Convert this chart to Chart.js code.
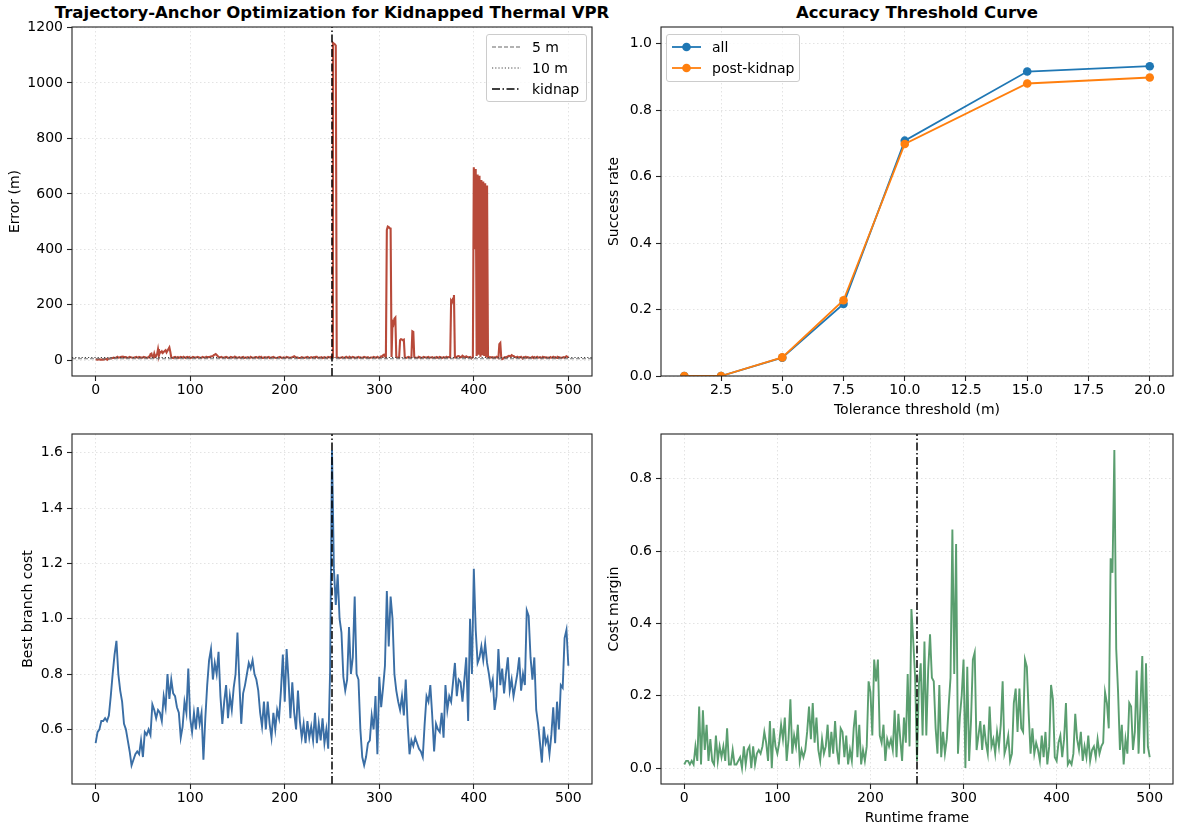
<!DOCTYPE html>
<html>
<head>
<meta charset="utf-8">
<title>Kidnapped Thermal VPR</title>
<script src="https://cdn.jsdelivr.net/npm/chart.js@4.4.1/dist/chart.umd.min.js"></script>
<style>
  html, body { margin: 0; padding: 0; background: #fff; }
  body { position: relative; width: 1179px; height: 829px; overflow: hidden; font-family: "DejaVu Sans", sans-serif; color: #000; }
  canvas { position: absolute; }
  .title { position: absolute; top: 3px; width: 640px; text-align: center; font-weight: bold; font-size: 16.5px; line-height: 20px; }
  .legend { position: absolute; box-sizing: border-box; background: rgba(255,255,255,0.8); border: 1px solid #ccc; border-radius: 3px; font-size: 14px; padding: 1px 0 2px 5px; }
  .legend .row { display: flex; align-items: center; height: 21px; white-space: nowrap; }
  .legend svg { width: 29px; height: 12px; margin-right: 11px; flex: none; }
</style>
</head>
<body>
<div class="title" style="left:12px">Trajectory-Anchor Optimization for Kidnapped Thermal VPR</div>
<div class="title" style="left:597px">Accuracy Threshold Curve</div>
<canvas id="errorChart" width="600" height="420" style="left:0;top:0"></canvas>
<canvas id="accChart" width="589" height="420" style="left:590px;top:0"></canvas>
<canvas id="costChart" width="600" height="409" style="left:0;top:420px"></canvas>
<canvas id="marginChart" width="589" height="409" style="left:590px;top:420px"></canvas>

<div class="legend" style="left:486px;top:34px;width:101px">
  <div class="row"><svg><line x1="0" y1="6" x2="29" y2="6" stroke="#666" stroke-width="1.1" stroke-dasharray="4 2"/></svg>5 m</div>
  <div class="row"><svg><line x1="0" y1="6" x2="29" y2="6" stroke="#444" stroke-width="1.1" stroke-dasharray="1.2 2"/></svg>10 m</div>
  <div class="row"><svg><line x1="0" y1="6" x2="29" y2="6" stroke="#000" stroke-width="1.5" stroke-dasharray="8 2.5 1.5 2.5"/></svg>kidnap</div>
</div>
<div class="legend" style="left:666px;top:34px;width:134px;padding-bottom:3px">
  <div class="row"><svg><line x1="0" y1="6" x2="29" y2="6" stroke="#1f77b4" stroke-width="1.8"/><circle cx="14.5" cy="6" r="4.3" fill="#1f77b4"/></svg>all</div>
  <div class="row"><svg><line x1="0" y1="6" x2="29" y2="6" stroke="#ff7f0e" stroke-width="1.8"/><circle cx="14.5" cy="6" r="4.3" fill="#ff7f0e"/></svg>post-kidnap</div>
</div>

<script>
const kidnapFrame = 250

// localisation error (m), one value per runtime frame 0..500
const errorFrames = Array.from({ length: 501 }, (_, i) => i)
const errorValues = [
    3,3,2,3,3,2,2,3,2,3,4,5,3,4,5,6,6,7,8,9,
    8,9,10,12,9,10,11,12,12,13,10,11,11,9,9,10,12,11,10,9,
    9,10,11,12,10,9,12,11,9,10,10,12,11,10,8,9,12,10,22,24,
    12,10,24,12,15,22,40,18,30,28,32,26,30,33,36,28,34,40,46,30,
    10,9,8,11,12,10,9,11,8,10,12,11,9,12,10,8,11,12,9,11,
    8,9,10,12,11,9,10,11,12,10,10,8,9,12,11,10,9,12,10,11,
    11,12,12,14,15,18,20,22,19,15,12,10,11,12,10,9,10,11,12,11,
    8,9,10,12,11,9,10,13,12,8,9,10,11,9,8,11,12,8,9,10,
    10,11,9,8,12,10,8,9,10,11,11,9,9,12,10,12,8,9,10,11,
    9,10,11,12,8,9,10,11,12,10,9,8,8,10,11,12,10,9,9,10,
    8,9,12,11,10,8,9,10,11,12,14,12,9,10,10,8,8,9,11,10,
    9,8,10,11,12,10,8,9,11,10,9,11,10,12,12,9,9,10,10,11,
    8,9,11,10,9,8,12,11,10,12,12,1145,1142,1140,1135,10,10,9,8,9,
    10,11,9,8,10,12,9,10,8,11,9,10,12,11,8,9,10,11,12,9,
    10,9,8,10,12,11,9,10,11,8,8,10,10,9,12,11,10,9,12,10,
    9,10,14,12,18,20,15,12,470,482,480,476,475,12,138,130,150,154,12,10,
    10,9,72,76,75,72,74,10,8,9,11,12,10,9,10,104,102,12,10,9,
    9,10,12,11,8,9,10,12,11,10,9,11,12,8,10,10,11,9,8,10,
    9,11,10,8,12,11,8,9,11,10,9,12,10,11,12,10,215,210,222,235,
    10,9,12,14,15,13,10,11,16,14,12,10,14,12,10,11,12,9,8,10,
    696,400,690,15,670,20,665,12,650,18,645,15,638,10,630,10,12,9,11,10,
    11,8,10,9,12,10,8,58,62,10,4,6,9,11,10,12,14,16,15,13,
    18,16,15,12,11,10,12,9,11,10,12,9,8,11,10,12,9,11,10,8,
    9,10,12,8,11,9,10,12,9,10,11,9,8,12,10,11,9,10,8,9,
    8,11,9,10,12,9,11,10,8,12,11,10,9,8,10,11,9,12,14,12,
    10
]

// cost series, read every 2 frames (0, 2, ..., 500)
const costFrames = Array.from({ length: 251 }, (_, i) => i * 2)

const bestCostValues = [
    0.55,0.59,0.60,0.63,0.63,0.64,0.63,0.65,0.72,0.80,
    0.87,0.92,0.80,0.74,0.70,0.62,0.60,0.56,0.52,0.47,
    0.49,0.51,0.52,0.51,0.56,0.50,0.59,0.58,0.60,0.58,
    0.69,0.67,0.64,0.67,0.66,0.63,0.72,0.68,0.80,0.71,
    0.78,0.73,0.72,0.68,0.66,0.57,0.61,0.70,0.66,0.82,
    0.64,0.59,0.66,0.60,0.68,0.62,0.66,0.49,0.64,0.76,
    0.85,0.89,0.78,0.84,0.80,0.88,0.72,0.62,0.70,0.76,
    0.64,0.72,0.67,0.75,0.80,0.95,0.77,0.62,0.73,0.76,
    0.80,0.84,0.82,0.85,0.80,0.78,0.74,0.66,0.61,0.70,
    0.60,0.70,0.62,0.57,0.66,0.60,0.67,0.64,0.74,0.87,
    0.70,0.89,0.78,0.64,0.77,0.66,0.60,0.74,0.63,0.57,
    0.62,0.55,0.63,0.57,0.61,0.56,0.66,0.55,0.62,0.56,
    0.64,0.55,0.60,0.53,0.81,1.61,1.18,1.05,1.16,1.00,
    0.95,0.79,0.74,0.78,0.97,0.80,0.86,1.08,0.80,0.78,
    0.60,0.50,0.47,0.50,0.55,0.56,0.65,0.60,0.72,0.51,
    0.79,0.68,0.75,0.83,1.10,0.90,1.08,1.00,0.80,0.74,
    0.70,0.67,0.72,0.65,0.78,0.62,0.51,0.56,0.54,0.57,
    0.55,0.53,0.52,0.50,0.62,0.72,0.70,0.76,0.65,0.52,
    0.62,0.60,0.59,0.66,0.57,0.76,0.67,0.72,0.70,0.77,
    0.84,0.72,0.78,0.77,0.70,0.78,0.86,0.63,1.00,0.80,
    1.18,0.96,0.84,0.86,0.90,0.85,0.91,0.84,0.80,0.75,
    0.78,0.67,0.72,0.89,0.76,0.82,0.73,0.80,0.86,0.74,
    0.78,0.72,0.76,0.80,0.86,0.74,0.80,0.76,1.03,1.01,
    0.86,0.78,0.86,0.67,0.62,0.55,0.48,0.61,0.55,0.57,
    0.51,0.58,0.68,0.55,0.70,0.60,0.76,0.75,0.93,0.96,
    0.83
]

const marginValues = [
    0.01,0.02,0.02,0.01,0.02,0.01,0.06,0.02,0.17,0.01,
    0.16,0.05,0.12,0.02,0.08,0.02,0.01,0.09,0.02,0.06,
    0.03,0.06,0.02,0.11,0.01,0.01,0.05,0.01,0.01,0.02,
    0.03,0.00,0.06,0.01,0.05,0.06,0.00,0.06,0.01,0.04,
    0.05,0.04,0.06,0.10,0.07,0.02,0.13,0.00,0.11,0.06,
    0.04,0.07,0.12,0.08,0.14,0.02,0.08,0.19,0.04,0.09,
    0.06,0.12,0.02,0.05,0.03,0.05,0.10,0.17,0.08,0.18,
    0.07,0.14,0.05,0.02,0.08,0.04,0.06,0.12,0.03,0.10,
    0.04,0.13,0.05,0.01,0.11,0.10,0.03,0.09,0.01,0.05,
    0.02,0.11,0.16,0.03,0.12,0.01,0.05,0.02,0.06,0.24,
    0.21,0.09,0.30,0.24,0.30,0.09,0.07,0.12,0.02,0.08,
    0.06,0.08,0.05,0.16,0.03,0.15,0.08,0.02,0.14,0.07,
    0.26,0.06,0.44,0.35,0.25,0.02,0.23,0.29,0.09,0.35,
    0.09,0.27,0.37,0.25,0.24,0.11,0.04,0.23,0.03,0.10,
    0.04,0.08,0.17,0.25,0.66,0.26,0.62,0.04,0.14,0.20,
    0.30,0.00,0.28,0.02,0.13,0.30,0.32,0.05,0.09,0.13,
    0.05,0.12,0.07,0.04,0.17,0.06,0.08,0.04,0.10,0.06,
    0.12,0.24,0.04,0.06,0.09,0.02,0.04,0.18,0.22,0.10,
    0.22,0.11,0.10,0.30,0.28,0.15,0.04,0.11,0.04,0.07,
    0.05,0.02,0.09,0.03,0.10,0.01,0.06,0.23,0.19,0.03,
    0.02,0.07,0.09,0.03,0.08,0.18,0.01,0.02,0.01,0.04,
    0.15,0.08,0.05,0.10,0.02,0.06,0.03,0.09,0.02,0.05,
    0.06,0.03,0.08,0.04,0.06,0.07,0.21,0.18,0.11,0.58,
    0.54,0.88,0.33,0.21,0.05,0.12,0.01,0.08,0.04,0.18,
    0.17,0.05,0.10,0.27,0.04,0.17,0.31,0.04,0.29,0.06,
    0.03
]

// accuracy vs tolerance threshold
const thresholds = [1, 2.5, 5, 7.5, 10, 15, 20]
const rateAll = [0, 0, 0.055, 0.217, 0.708, 0.916, 0.932]
const ratePost = [0, 0, 0.056, 0.228, 0.698, 0.880, 0.898]

// axis limits and ticks
const frameRange = [-25, 525]
const errorRange = [-57, 1202]
const costRange = [0.4025, 1.6675]
const marginRange = [-0.044, 0.924]
const thresholdRange = [0.05, 20.95]
const rateRange = [0, 1.05]

const frameTicks = [0, 100, 200, 300, 400, 500]
const frameTickLabels = ['0', '100', '200', '300', '400', '500']
const errorTicks = [0, 200, 400, 600, 800, 1000, 1200]
const errorTickLabels = ['0', '200', '400', '600', '800', '1000', '1200']
const thresholdTicks = [2.5, 5, 7.5, 10, 12.5, 15, 17.5, 20]
const thresholdTickLabels = ['2.5', '5.0', '7.5', '10.0', '12.5', '15.0', '17.5', '20.0']
const rateTicks = [0, 0.2, 0.4, 0.6, 0.8, 1.0]
const rateTickLabels = ['0.0', '0.2', '0.4', '0.6', '0.8', '1.0']
const costTicks = [0.6, 0.8, 1.0, 1.2, 1.4, 1.6]
const costTickLabels = ['0.6', '0.8', '1.0', '1.2', '1.4', '1.6']
const marginTicks = [0, 0.2, 0.4, 0.6, 0.8]
const marginTickLabels = ['0.0', '0.2', '0.4', '0.6', '0.8']

Chart.defaults.font.family = '"DejaVu Sans", sans-serif'
Chart.defaults.font.size = 14
Chart.defaults.color = '#000'

// box around the plot area, like matplotlib spines
const spines = {
    id: 'spines',
    afterDatasetsDraw(chart) {
        const { ctx, chartArea: a } = chart
        ctx.save()
        ctx.strokeStyle = '#222'
        ctx.lineWidth = 1.1
        ctx.strokeRect(a.left, a.top, a.right - a.left, a.bottom - a.top)
        ctx.restore()
    }
}

function axis(range, ticks, labels, size, horizontal, title, titlePad) {
    return {
        type: 'linear',
        min: range[0],
        max: range[1],
        afterBuildTicks: scale => { scale.ticks = ticks.map(v => ({ value: v })) },
        afterFit: scale => { if (horizontal) scale.height = size; else scale.width = size },
        ticks: {
            autoSkip: false, maxRotation: 0, padding: horizontal ? 1 : 4,
            color: '#000', font: { size: 14 },
            callback: (v, i) => labels[i]
        },
        grid: { color: 'rgba(0,0,0,0.14)', lineWidth: 0.8, tickColor: '#222', tickLength: 5, tickWidth: 1.1 },
        border: { display: false, dash: [1.5, 2.5] },
        title: { display: !!title, text: title || '', color: '#000', font: { size: 14 }, padding: titlePad || 0 }
    }
}

function options(xAxis, yAxis, padding) {
    return {
        responsive: false,
        animation: false,
        devicePixelRatio: 1,
        layout: { padding },
        plugins: { legend: { display: false }, tooltip: { enabled: false }, title: { display: false } },
        elements: { point: { radius: 0 }, line: { tension: 0 } },
        scales: { x: xAxis, y: yAxis }
    }
}

const series = (xs, values) => xs.map((f, i) => ({ x: f, y: values[i] }))
const kidnapLine = range => [{ x: kidnapFrame, y: range[0] }, { x: kidnapFrame, y: range[1] }]
const levelLine = y => [{ x: frameRange[0], y }, { x: frameRange[1], y }]
const kidnapStyle = { borderColor: '#000', borderWidth: 1.5, borderDash: [8, 2.5, 1.5, 2.5], order: 0 }

new Chart(document.getElementById('errorChart'), {
    type: 'line',
    data: {
        datasets: [
            { data: kidnapLine(errorRange), ...kidnapStyle },
            { data: levelLine(10), borderColor: '#444', borderWidth: 1.1, borderDash: [1.2, 2], order: 1 },
            { data: levelLine(5), borderColor: '#777', borderWidth: 1.1, borderDash: [4, 2], order: 2 },
            { data: series(errorFrames, errorValues), borderColor: '#b84a3a', borderWidth: 2.1, order: 3 }
        ]
    },
    options: options(
        axis(frameRange, frameTicks, frameTickLabels, 44, true),
        axis(errorRange, errorTicks, errorTickLabels, 72, false, 'Error (m)', { top: 7 }),
        { top: 27, right: 8, left: 0, bottom: 0 }
    ),
    plugins: [spines]
})

new Chart(document.getElementById('accChart'), {
    type: 'line',
    data: {
        datasets: [
            { label: 'post-kidnap', data: series(thresholds, ratePost),
              borderColor: '#ff7f0e', backgroundColor: '#ff7f0e', borderWidth: 1.8,
              pointRadius: 4.3, pointBorderWidth: 0, order: 0 },
            { label: 'all', data: series(thresholds, rateAll),
              borderColor: '#1f77b4', backgroundColor: '#1f77b4', borderWidth: 1.8,
              pointRadius: 4.3, pointBorderWidth: 0, order: 1 }
        ]
    },
    options: options(
        axis(thresholdRange, thresholdTicks, thresholdTickLabels, 44, true, 'Tolerance threshold (m)', { bottom: 1 }),
        axis(rateRange, rateTicks, rateTickLabels, 71, false, 'Success rate', { top: 16 }),
        { top: 27, right: 6, left: 0, bottom: 0 }
    ),
    plugins: [spines]
})

new Chart(document.getElementById('costChart'), {
    type: 'line',
    data: {
        datasets: [
            { data: kidnapLine(costRange), ...kidnapStyle },
            { data: series(costFrames, bestCostValues), borderColor: '#3a6ea5', borderWidth: 1.9, order: 1 }
        ]
    },
    options: options(
        axis(frameRange, frameTicks, frameTickLabels, 45, true),
        axis(costRange, costTicks, costTickLabels, 72, false, 'Best branch cost', { top: 20 }),
        { top: 14, right: 8, left: 0, bottom: 0 }
    ),
    plugins: [spines]
})

new Chart(document.getElementById('marginChart'), {
    type: 'line',
    data: {
        datasets: [
            { data: kidnapLine(marginRange), ...kidnapStyle },
            { data: series(costFrames, marginValues), borderColor: '#5a9e6f', borderWidth: 1.9, order: 1 }
        ]
    },
    options: options(
        axis(frameRange, frameTicks, frameTickLabels, 45, true, 'Runtime frame', { bottom: 2 }),
        axis(marginRange, marginTicks, marginTickLabels, 71, false, 'Cost margin', { top: 16 }),
        { top: 14, right: 6, left: 0, bottom: 0 }
    ),
    plugins: [spines]
})
</script>
</body>
</html>
